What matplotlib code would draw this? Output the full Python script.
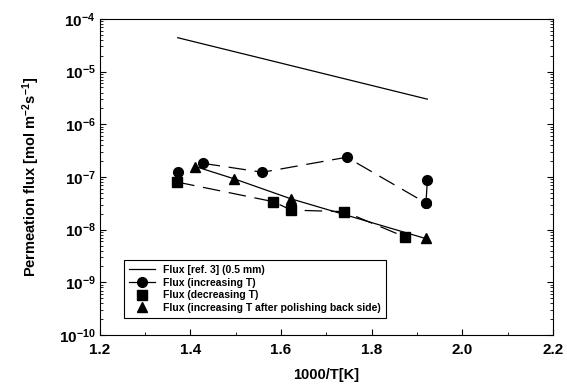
import numpy as np
import matplotlib
matplotlib.use("Agg")
import matplotlib.pyplot as plt
from matplotlib.lines import Line2D
from matplotlib.ticker import LogLocator, MultipleLocator, NullFormatter

plt.rcParams['font.family'] = 'Liberation Sans'
plt.rcParams['font.weight'] = 'bold'
plt.rcParams['mathtext.default'] = 'regular'

# data
ref_x = [1.372, 1.923]
ref_y = [4.4e-5, 3.0e-6]

inc_x = [1.372, 1.427, 1.559, 1.745, 1.920, 1.923]
inc_y = [1.23e-7, 1.82e-7, 1.23e-7, 2.37e-7, 3.2e-8, 8.6e-8]

dec_x = [1.371, 1.583, 1.623, 1.740, 1.873]
dec_y = [8.0e-8, 3.4e-8, 2.35e-8, 2.2e-8, 7.3e-9]

pol_x = [1.411, 1.497, 1.622, 1.919]
pol_y = [1.58e-7, 9.2e-8, 3.85e-8, 6.8e-9]

fig = plt.figure(figsize=(5.67, 3.86), dpi=100)
ax = fig.add_axes([0.176, 0.132, 0.799, 0.819])

dash = (14, 7)
ax.plot(ref_x, ref_y, color='black', lw=0.9)
# first circle stands alone, the rest are joined by a dashed line
ax.plot(inc_x[:1], inc_y[:1], 'o', color='black', ms=7)
ax.plot(inc_x[1:5], inc_y[1:5], 'o', color='black', ms=7, lw=0.9, ls='-', dashes=dash)
ax.plot(inc_x[4:], inc_y[4:], 'o', color='black', ms=7, lw=0.9, ls='-')
ax.plot(dec_x, dec_y, 's', color='black', ms=7, lw=0.9, ls='-', dashes=dash)
ax.plot(pol_x, pol_y, '^', color='black', ms=7.5, lw=0.9, ls='-')

ax.set_yscale('log')
ax.set_xlim(1.2, 2.2)
ax.set_ylim(1e-10, 1e-4)
ax.xaxis.set_major_locator(MultipleLocator(0.2))
ax.xaxis.set_minor_locator(MultipleLocator(0.1))
ax.yaxis.set_major_locator(LogLocator(base=10, numticks=10))
ax.yaxis.set_minor_locator(LogLocator(base=10, subs=np.arange(2, 10), numticks=20))
ax.yaxis.set_minor_formatter(NullFormatter())
ax.tick_params(which='both', direction='in', labelsize=11, right=True, top=False)
ax.tick_params(which='major', length=4)
ax.tick_params(which='minor', length=2)
ax.tick_params(axis='x', pad=6)
ax.tick_params(axis='y', pad=3)
for lab in ax.get_xticklabels() + ax.get_yticklabels():
    lab.set_fontweight('bold')

ax.set_xlabel('1000/T[K]', fontsize=10.5, fontweight='bold', labelpad=8)
ax.set_ylabel('Permeation flux [mol m$^{-2}$s$^{-1}$]', fontsize=10.5, fontweight='bold', labelpad=12)

handles = [
    Line2D([], [], color='black', lw=0.9),
    Line2D([], [], color='black', lw=0.9, marker='o', ms=7),
    Line2D([], [], color='black', ls='none', marker='s', ms=7),
    Line2D([], [], color='black', ls='none', marker='^', ms=7.5),
]
labels = ['Flux [ref. 3] (0.5 mm)', 'Flux (increasing T)', 'Flux (decreasing T)',
          'Flux (increasing T after polishing back side)']
leg = ax.legend(handles, labels, loc='lower left', bbox_to_anchor=(0.053, 0.054),
                borderaxespad=0, fancybox=False, edgecolor='black', framealpha=1,
                prop={'size': 7.5, 'weight': 'bold'}, handlelength=2.5,
                labelspacing=0.25, borderpad=0.5)
leg.get_frame().set_linewidth(0.8)

fig.savefig('out.png', dpi=100)
